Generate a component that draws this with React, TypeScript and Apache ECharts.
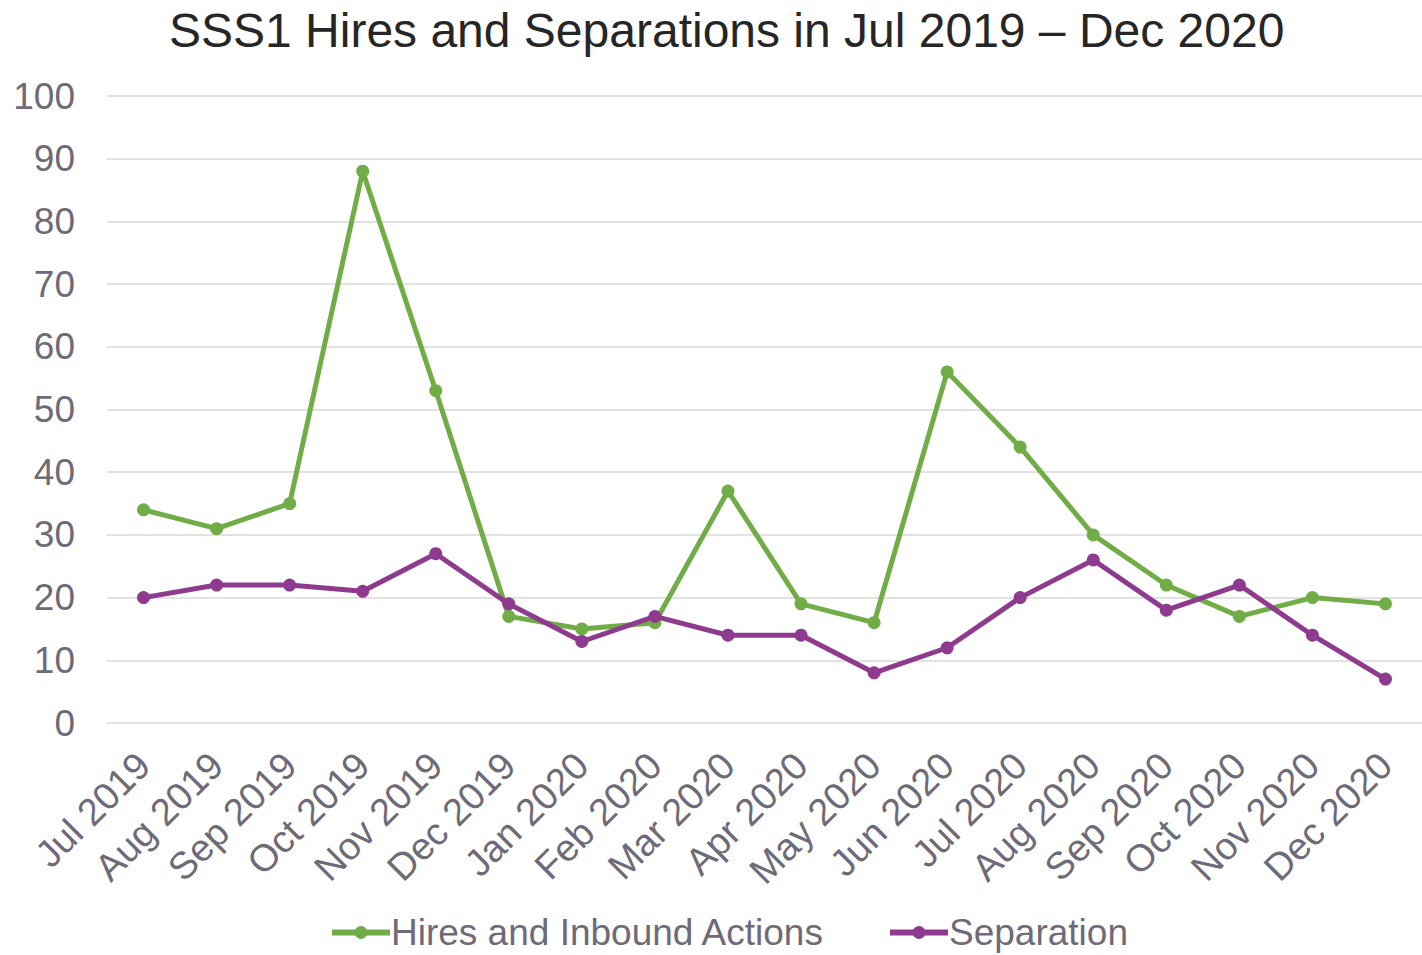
import React, { useEffect, useRef } from "react";
import * as echarts from "echarts";

const categories = [
  "Jul 2019", "Aug 2019", "Sep 2019", "Oct 2019", "Nov 2019", "Dec 2019",
  "Jan 2020", "Feb 2020", "Mar 2020", "Apr 2020", "May 2020", "Jun 2020",
  "Jul 2020", "Aug 2020", "Sep 2020", "Oct 2020", "Nov 2020", "Dec 2020",
];
const hires = [34, 31, 35, 88, 53, 17, 15, 16, 37, 19, 16, 56, 44, 30, 22, 17, 20, 19];
const separation = [20, 22, 22, 21, 27, 19, 13, 17, 14, 14, 8, 12, 20, 26, 18, 22, 14, 7];

const FONT = "'Liberation Sans', Arial, sans-serif";
const TEXT = "#6e6a78";
const GREEN = "#70ad47";
const PURPLE = "#8e3a8e";

export default function App() {
  const ref = useRef<HTMLDivElement>(null);
  useEffect(() => {
    const chart = echarts.init(ref.current!, null, { renderer: "svg" });
    chart.setOption({
      animation: false,
      textStyle: { fontFamily: FONT },
      title: {
        text: "SSS1 Hires and Separations in Jul 2019 – Dec 2020",
        left: 164,
        top: 1,
        textStyle: { fontFamily: FONT, fontSize: 48, fontWeight: "normal", color: "#262626" },
      },
      legend: {
        bottom: -1,
        left: 324,
        itemWidth: 58,
        itemHeight: 16,
        itemGap: 62,
        textStyle: { fontFamily: FONT, fontSize: 37, color: TEXT, padding: [0, 0, 0, -4] },
        data: [
          { name: "Hires and Inbound Actions", lineStyle: { width: 6, color: GREEN } },
          { name: "Separation", lineStyle: { width: 6, color: PURPLE } },
        ],
      },
      grid: { left: 107, right: 0, top: 96, bottom: 232, containLabel: false },
      xAxis: {
        type: "category",
        data: categories,
        boundaryGap: true,
        axisLine: { show: false },
        axisTick: { show: false },
        axisLabel: { rotate: 45, fontSize: 38, color: TEXT, fontFamily: FONT, margin: 36, interval: 0 },
      },
      yAxis: {
        type: "value",
        min: 0,
        max: 100,
        interval: 10,
        axisLine: { show: false },
        axisTick: { show: false },
        axisLabel: { fontSize: 37, color: TEXT, fontFamily: FONT, margin: 32 },
        splitLine: { lineStyle: { color: "#d9d9d9", width: 1.5 } },
      },
      series: [
        {
          name: "Hires and Inbound Actions",
          type: "line",
          data: hires,
          color: GREEN,
          lineStyle: { width: 5, color: GREEN },
          symbol: "circle",
          symbolSize: 13,
          itemStyle: { color: GREEN },
        },
        {
          name: "Separation",
          type: "line",
          data: separation,
          color: PURPLE,
          lineStyle: { width: 5, color: PURPLE },
          symbol: "circle",
          symbolSize: 13,
          itemStyle: { color: PURPLE },
        },
      ],
    });
    return () => chart.dispose();
  }, []);
  return (
    <div
      ref={ref}
      style={{ position: "fixed", left: 0, top: 0, width: 1422, height: 955, background: "#fff" }}
    />
  );
}
